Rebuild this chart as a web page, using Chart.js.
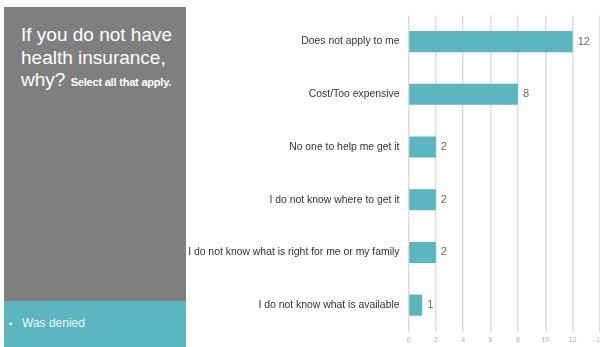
<!DOCTYPE html>
<html>
<head>
<meta charset="utf-8">
<script src="https://cdn.jsdelivr.net/npm/chart.js@4"></script>
<style>
  html, body { margin:0; padding:0; width:600px; height:347px; overflow:hidden; background:#fff; }
  #panel { position:absolute; left:4px; top:7px; width:182px; height:294px; background:#7f7f7f; }
  #teal { position:absolute; left:4px; top:301px; width:182px; height:46px; background:#5bb6bf; }
  #title { position:absolute; left:21px; top:24px; width:165px; color:#fff;
    font-family:"Liberation Sans", Arial, sans-serif; font-size:19px; line-height:22.7px; }
  #title small { font-size:11px; font-weight:bold; letter-spacing:-0.2px; }
  #denied { position:absolute; left:9px; top:316px; color:#eaf6f7;
    font-family:"Liberation Sans", Arial, sans-serif; font-size:12px; }
  #denied span { display:inline-block; width:13px; font-size:9px; }
  #wrap { position:absolute; left:186px; top:0; width:440px; height:347px; }
</style>
</head>
<body>
<div id="panel"></div>
<div id="teal"></div>
<div id="title">If you do not have health insurance, why? <small>Select all that apply.</small></div>
<div id="denied"><span>•</span>Was denied</div>
<div id="wrap"><canvas id="c" width="440" height="347"></canvas></div>
<script>
const categories = [
  "Does not apply to me",
  "Cost/Too expensive",
  "No one to help me get it",
  "I do not know where to get it",
  "I do not know what is right for me or my family",
  "I do not know what is available"
];
const values = [12, 8, 2, 2, 2, 1];
const xTicks = [0, 2, 4, 6, 8, 10, 12, 14];

const valueLabels = {
  id: 'valueLabels',
  afterDatasetsDraw(chart) {
    const ctx = chart.ctx;
    const meta = chart.getDatasetMeta(0);
    ctx.save();
    ctx.font = '11px "Liberation Sans", Arial, sans-serif';
    ctx.fillStyle = '#6b6b6b';
    ctx.textBaseline = 'middle';
    ctx.textAlign = 'left';
    meta.data.forEach((bar, i) => {
      ctx.fillText(String(values[i]), bar.x + 5, bar.y);
    });
    ctx.restore();
  }
};

new Chart(document.getElementById('c'), {
  type: 'bar',
  data: {
    labels: categories,
    datasets: [{
      data: values,
      backgroundColor: '#5bb6bf',
      borderWidth: 0,
      categoryPercentage: 1,
      barPercentage: 0.4
    }]
  },
  options: {
    indexAxis: 'y',
    responsive: false,
    animation: false,
    layout: { padding: { top: 14, right: 26, left: 0, bottom: 0 } },
    plugins: { legend: { display: false }, tooltip: { enabled: false } },
    scales: {
      x: {
        min: 0, max: 14,
        afterBuildTicks(scale) { scale.ticks = xTicks.map(v => ({ value: v })); },
        afterFit(scale) { scale.height = 15.5; },
        grid: { color: '#dedede', lineWidth: 1.5, drawTicks: false },
        border: { display: false },
        ticks: { color: '#b0b0b0', font: { size: 7, family: '"Liberation Sans", Arial, sans-serif' }, padding: 4, maxRotation: 0, autoSkip: false }
      },
      y: {
        afterFit(scale) { scale.width = 222.5; },
        grid: { display: false, drawTicks: false },
        border: { display: false },
        ticks: { color: '#333333', font: { size: 10.4, family: '"Liberation Sans", Arial, sans-serif' }, padding: 9, autoSkip: false }
      }
    }
  },
  plugins: [valueLabels]
});
</script>
</body>
</html>
